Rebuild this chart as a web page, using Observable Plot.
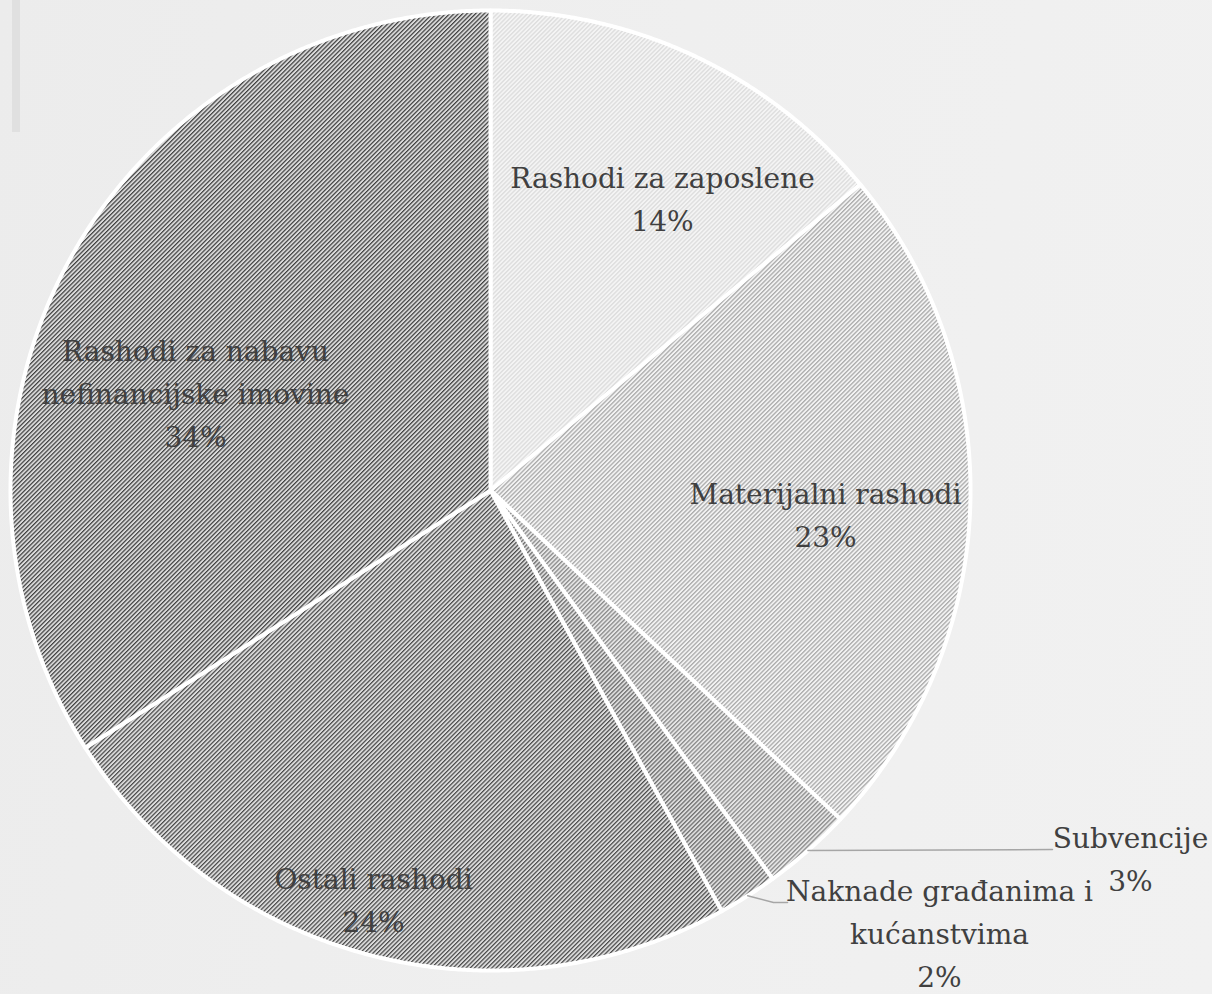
<!DOCTYPE html>
<html>
<head>
<meta charset="utf-8">
<script src="https://cdn.jsdelivr.net/npm/d3@7"></script>
<script src="https://cdn.jsdelivr.net/npm/@observablehq/plot@0.6"></script>
<style>
  html, body { margin: 0; padding: 0; background: #eeeeee; }
  #wrap { position: relative; width: 1212px; height: 994px; overflow: hidden;
          background: linear-gradient(100deg, #ececec 0%, #efefef 50%, #f1f1f1 100%); }
  #bar { position: absolute; left: 12px; top: 0; width: 8px; height: 132px; background: #e0e0e0; }
  #chart { position: absolute; left: 0; top: 0; }
</style>
</head>
<body>
<svg width="0" height="0" style="position:absolute">
  <defs id="pdefs"></defs>
</svg>
<div id="wrap"><div id="bar"></div><div id="chart"></div></div>
<script>
// ---- data ----
const categories = [
  "Rashodi za zaposlene",
  "Materijalni rashodi",
  "Subvencije",
  "Naknade građanima i kućanstvima",
  "Ostali rashodi",
  "Rashodi za nabavu nefinancijske imovine"
];
const values = [14, 23, 3, 2, 24, 34];
const labelText = [
  "Rashodi za zaposlene\n14%",
  "Materijalni rashodi\n23%",
  "Subvencije\n3%",
  "Naknade građanima i\nkućanstvima\n2%",
  "Ostali rashodi\n24%",
  "Rashodi za nabavu\nnefinancijske imovine\n34%"
];

// ---- layout / style (not data) ----
// label anchor (center x, top y) in units of the pie radius, origin at pie center
const labelLayout = [
  {x: 0.3583, y: 0.6937},
  {x: 0.6979, y: 0.0354},
  {x: 1.3333, y: -0.6813},
  {x: 0.9354, y: -0.7917},
  {x: -0.2437, y: -0.7667},
  {x: -0.6146, y: 0.3333}
];
// leader lines for small slices: path points after the slice edge
const leaderLayout = {
  2: [{x: 1.1708, y: -0.7479}],
  3: [{x: 0.5896, y: -0.8583}, {x: 0.6188, y: -0.8583}]
};
const patternStyle = [
  {bg: "#f4f4f4", fg: "#dedede", w: 1.4},
  {bg: "#f3f3f3", fg: "#ababab", w: 1.3},
  {bg: "#e6e6e6", fg: "#8c8c8c", w: 1.3},
  {bg: "#dedede", fg: "#707070", w: 1.3},
  {bg: "#dcdcdc", fg: "#484848", w: 1.2},
  {bg: "#dadada", fg: "#404040", w: 1.2}
];

// build hatch patterns
const defs = document.getElementById("pdefs");
const NS = "http://www.w3.org/2000/svg";
patternStyle.forEach((s, i) => {
  const p = document.createElementNS(NS, "pattern");
  p.setAttribute("id", "hatch" + i);
  p.setAttribute("patternUnits", "userSpaceOnUse");
  p.setAttribute("width", "10");
  p.setAttribute("height", "3.05");
  p.setAttribute("patternTransform", "rotate(-45)");
  const r1 = document.createElementNS(NS, "rect");
  r1.setAttribute("width", "10"); r1.setAttribute("height", "3.05"); r1.setAttribute("fill", s.bg);
  const r2 = document.createElementNS(NS, "rect");
  r2.setAttribute("width", "10"); r2.setAttribute("height", String(s.w)); r2.setAttribute("fill", s.fg);
  p.appendChild(r1); p.appendChild(r2);
  defs.appendChild(p);
});
const patternUrls = patternStyle.map((_, i) => `url(#hatch${i})`);

// ---- geometry from data ----
const arcs = d3.pie().sort(null).value(d => d)(values);
const slicePts = [];
arcs.forEach((a, i) => {
  const cat = categories[i];
  slicePts.push({cat, x: 0, y: 0});
  const n = Math.max(4, Math.ceil((a.endAngle - a.startAngle) / 0.005));
  for (let k = 0; k <= n; k++) {
    const t = a.startAngle + (a.endAngle - a.startAngle) * k / n;
    slicePts.push({cat, x: Math.sin(t), y: Math.cos(t)});
  }
  slicePts.push({cat, x: 0, y: 0});
});
const labels = labelLayout.map((p, i) => ({text: labelText[i], x: p.x, y: p.y}));
const leaders = [];
Object.entries(leaderLayout).forEach(([i, pts]) => {
  const a = arcs[+i];
  const m = (a.startAngle + a.endAngle) / 2;
  leaders.push({id: i, x: Math.sin(m), y: Math.cos(m)});
  pts.forEach(p => leaders.push({id: i, x: p.x, y: p.y}));
});

const W = 1212, H = 994, cx = 490, cy = 490, R = 480;
const chart = Plot.plot({
  width: W, height: H,
  marginTop: 0, marginRight: 0, marginBottom: 0, marginLeft: 0,
  style: {background: "transparent", overflow: "visible"},
  x: {domain: [-cx / R, (W - cx) / R], axis: null},
  y: {domain: [-(H - cy) / R, cy / R], axis: null},
  color: {domain: categories, range: patternUrls},
  marks: [
    Plot.line(slicePts, {x: "x", y: "y", z: "cat", fill: "cat", stroke: "white",
      strokeWidth: 4, strokeLinejoin: "round", curve: "linear"}),
    Plot.line(leaders, {x: "x", y: "y", z: "id", stroke: "#a6a6a6", strokeWidth: 1.5}),
    Plot.text(labels, {x: "x", y: "y", text: "text", lineAnchor: "top", textAnchor: "middle",
      lineHeight: 1.54, fontSize: 28, fontFamily: "DejaVu Serif", fill: "#404040"})
  ]
});
document.getElementById("chart").appendChild(chart);
</script>
</body>
</html>
